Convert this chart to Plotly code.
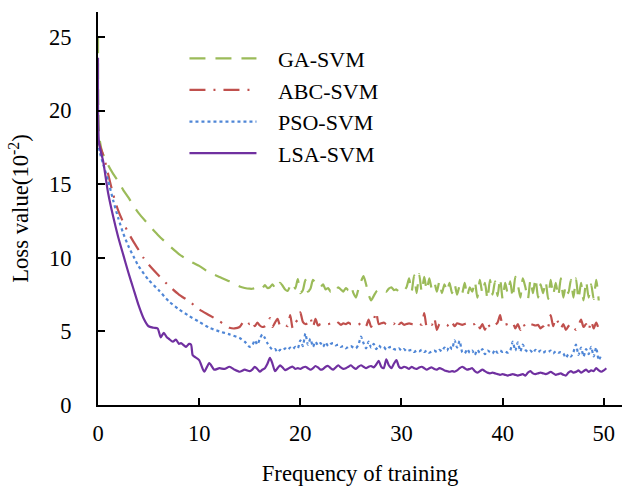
import numpy as np
import plotly.graph_objects as go

# ---- training-loss curves (loss in units of 1e-2) ----
# smooth start of each curve: explicit x knots and values
GA_X_HEAD = [0, 0.1, 0.4, 1, 1.5, 2, 2.5, 3, 3.5, 4, 5, 6, 7, 8, 9, 10, 11, 12, 13, 14, 14.5, 15]
GA_Y_HEAD = [25.0, 18.4, 17.2, 16.3, 15.7, 15.2, 14.6, 14.1, 13.55, 13.05, 12.25, 11.5, 10.85,
             10.25, 9.8, 9.45, 9.0, 8.7, 8.4, 8.05, 7.95, 7.9]

ABC_X_HEAD = [0, 0.3, 0.6, 1, 1.5, 2, 2.5, 3, 3.5, 4, 4.5, 5, 6, 7, 8, 9, 10, 11, 12, 12.5,
              13, 13.5, 14, 14.5, 15]
ABC_Y_HEAD = [18.0, 17.4, 16.8, 15.7, 14.3, 13.2, 12.4, 11.7, 11.1, 10.55, 10.0, 9.55, 8.8,
              8.1, 7.5, 7.05, 6.5, 6.1, 5.7, 5.45, 5.25, 5.2, 5.3, 5.75, 5.5]

PSO_X_HEAD = [0, 0.2, 0.5, 1, 1.5, 2, 2.5, 3, 3.5, 4, 5, 6, 7, 8, 9, 10, 11, 12, 13, 14, 14.5, 15]
PSO_Y_HEAD = [17.9, 17.1, 16.4, 15.25, 13.9, 12.7, 11.65, 10.8, 10.1, 9.45, 8.5, 7.8, 7.05,
              6.5, 6.05, 5.65, 5.25, 5.0, 4.8, 4.55, 4.3, 3.95]

LSA_X_HEAD = [0, 0.1, 0.5, 1, 1.5, 2, 2.5, 3, 3.5, 4, 4.5, 5, 5.5, 5.9, 6.2, 6.5, 6.8, 7.0,
              7.4, 7.7, 8.0, 8.2, 8.5, 8.7, 9.0, 9.2, 9.35, 9.5, 10.0, 10.5, 11.0, 11.5,
              12.0, 12.5, 13.0, 13.5, 14.0, 14.5, 15.0]
LSA_Y_HEAD = [23.6, 17.8, 16.6, 14.4, 12.8, 11.4, 10.2, 9.0, 7.9, 6.8, 5.9, 5.35, 5.25, 5.2,
              4.6, 4.9, 4.6, 4.5, 4.3, 4.45, 4.15, 4.2, 4.05, 3.95, 4.15, 4.1, 3.4, 3.3,
              3.05, 2.26, 2.85, 2.4, 2.5, 2.45, 2.6, 2.4, 2.26, 2.4, 2.3]

# later iterations, sampled every 0.25 starting at x = 15.25
TAIL_START = 15.25
TAIL_STEP = 0.25

GA_Y_TAIL = [
    7.9, 7.95, 8.05, 8.0, 7.95, 8.15, 7.95, 8.0,
    8.2, 7.95, 7.9, 8.3, 8.1, 7.85, 7.75, 8.1,
    8.3, 7.9, 8.55, 7.6, 7.8, 8.5, 7.7, 7.9,
    8.5, 8.3, 8.1, 8.0, 8.2, 7.85, 7.95, 7.7,
    7.9, 7.75, 8.0, 7.85, 7.7, 7.95, 7.8, 8.1,
    7.6, 7.3, 7.9, 8.4, 8.75, 8.2, 7.5, 7.1,
    7.4, 7.7, 7.8, 7.65, 7.75, 7.7, 7.9, 8.0,
    7.8, 7.85, 7.7, 7.9, 7.8, 8.0, 8.6, 7.7,
    8.8, 7.6, 8.9, 7.7, 8.7, 7.8, 8.6, 7.9,
    8.3, 7.7, 8.4, 7.6, 8.2, 7.7, 8.3, 7.6,
    8.2, 7.5, 8.1, 7.6, 8.3, 7.4, 8.0, 7.7,
    8.4, 7.3, 8.5, 7.6, 8.3, 7.2, 8.5, 7.5,
    8.4, 7.4, 8.6, 7.2, 8.3, 7.6, 8.4, 7.3,
    8.7, 8.2, 7.3, 8.6, 8.0, 7.2, 8.5, 7.6,
    8.6, 7.3, 8.2, 7.6, 8.4, 7.2, 8.5, 7.5,
    8.3, 7.4, 8.6, 7.3, 8.1, 7.6, 8.5, 7.3,
    8.6, 7.2, 8.3, 7.1, 8.4, 7.3, 8.2, 7.2,
    8.5, 7.1,
]

ABC_Y_TAIL = [
    5.7, 5.35, 5.6, 5.4, 5.3, 5.35, 5.5, 5.9,
    5.3, 5.6, 5.85, 5.4, 5.5, 5.45, 5.35, 6.1,
    5.2, 5.6, 5.8, 6.3, 5.65, 5.5, 5.55, 5.9,
    5.3, 5.85, 5.4, 5.5, 5.45, 5.5, 5.5, 5.55,
    5.6, 5.5, 5.6, 5.45, 5.55, 5.5, 5.6, 5.5,
    5.55, 5.5, 5.45, 5.6, 5.5, 5.35, 5.8, 5.3,
    5.75, 6.3, 5.5, 5.55, 5.6, 5.5, 5.55, 5.6,
    5.5, 5.8, 5.5, 5.6, 5.45, 5.5, 5.55, 5.5,
    5.45, 5.5, 5.55, 5.45, 6.25, 5.3, 5.5, 5.45,
    5.9, 5.1, 5.5, 5.55, 5.5, 5.45, 5.3, 5.6,
    5.35, 5.55, 5.5, 5.45, 5.5, 5.55, 5.45, 5.5,
    5.5, 5.65, 5.2, 5.5, 5.1, 5.6, 5.3, 5.5,
    5.45, 5.6, 6.1, 5.4, 5.45, 5.5, 5.55, 5.6,
    5.2, 5.5, 5.1, 5.55, 5.3, 5.45, 5.5, 5.45,
    5.4, 5.45, 5.2, 5.35, 5.1, 5.3, 6.1, 5.35,
    5.9, 5.6, 5.2, 5.5, 5.1, 5.35, 5.5, 5.3,
    5.1, 5.4, 5.8, 5.3, 5.5, 5.1, 5.7, 5.2,
    5.6, 5.15,
]

PSO_Y_TAIL = [
    4.05, 4.4, 4.1, 4.5, 4.8, 4.55, 4.2, 3.95,
    3.75, 3.8, 3.6, 3.75, 3.7, 3.85, 3.75, 3.9,
    3.8, 3.95, 3.85, 4.4, 4.0, 4.86, 4.1, 4.5,
    3.95, 4.3, 4.05, 4.2, 3.95, 4.25, 4.0, 4.15,
    4.2, 4.05, 4.1, 3.95, 4.0, 3.85, 3.95, 4.0,
    3.9, 3.85, 4.1, 4.64, 4.2, 3.85, 4.3, 3.9,
    4.15, 3.8, 4.05, 3.9, 3.95, 3.75, 3.9, 3.95,
    3.8, 3.75, 3.85, 3.7, 3.8, 3.65, 3.7, 3.75,
    3.6, 3.7, 3.65, 3.75, 3.6, 3.7, 3.55, 3.65,
    3.7, 3.6, 3.75, 3.65, 3.9, 3.7, 4.0, 3.8,
    4.4, 3.9, 4.35, 3.6, 3.5, 3.8, 3.55, 3.7,
    3.4, 3.75, 3.55, 3.8, 3.45, 3.7, 3.6, 3.5,
    3.75, 3.55, 3.7, 3.6, 3.65, 3.55, 3.7, 4.3,
    3.7, 4.25, 3.65, 4.1, 3.75, 3.6, 3.7, 3.55,
    3.75, 3.6, 3.7, 3.55, 3.65, 3.6, 3.7, 3.5,
    3.65, 3.55, 3.6, 3.5, 3.2, 3.45, 3.3, 3.6,
    4.1, 3.4, 3.9, 3.3, 3.8, 3.45, 3.95, 3.3,
    3.9, 3.05, 3.4,
]

LSA_Y_TAIL = [
    2.4, 2.6, 2.45, 2.26, 2.4, 2.5, 2.8, 3.2,
    2.8, 2.3, 2.5, 2.7, 2.55, 2.37, 2.45, 2.55,
    2.6, 2.45, 2.5, 2.45, 2.55, 2.6, 2.5, 2.4,
    2.5, 2.65, 2.55, 2.4, 2.45, 2.6, 2.65, 2.5,
    2.4, 2.55, 2.7, 2.55, 2.45, 2.5, 2.6, 2.7,
    2.55, 2.45, 2.6, 2.7, 2.6, 2.5, 2.6, 2.65,
    2.55, 2.75, 3.0, 2.6, 2.5, 3.1, 2.7, 2.5,
    2.8, 3.05, 2.6, 2.5, 2.6, 2.55, 2.45, 2.6,
    2.5, 2.45, 2.55, 2.6, 2.5, 2.4, 2.5, 2.55,
    2.45, 2.4, 2.5, 2.45, 2.35, 2.3, 2.26, 2.3,
    2.26, 2.35, 2.5, 2.6, 2.5, 2.4, 2.45, 2.5,
    2.3, 2.2, 2.3, 2.4, 2.3, 2.2, 2.15, 2.2,
    2.15, 2.1, 2.05, 2.1, 2.05, 2.0, 2.05, 2.1,
    2.05, 2.0, 2.05, 2.1, 2.0, 2.2, 2.3, 2.15,
    2.1, 2.15, 2.2, 2.15, 2.1, 2.15, 2.26, 2.15,
    2.05, 2.1, 2.15, 2.05, 2.0, 2.2, 2.3, 2.2,
    2.25, 2.35, 2.2, 2.3, 2.4, 2.25, 2.35, 2.3,
    2.5, 2.35, 2.26, 2.35, 2.5,
]

X_TICKS = [0, 10, 20, 30, 40, 50]
Y_TICKS = [0, 5, 10, 15, 20, 25]

SERIES = [
    ("GA-SVM", GA_X_HEAD, GA_Y_HEAD, GA_Y_TAIL, "#9BBB59", "16px,10px"),
    ("ABC-SVM", ABC_X_HEAD, ABC_Y_HEAD, ABC_Y_TAIL, "#C0504D", "16px,8px,2px,8px"),
    ("PSO-SVM", PSO_X_HEAD, PSO_Y_HEAD, PSO_Y_TAIL, "#4F86D6", "3px,3px"),
    ("LSA-SVM", LSA_X_HEAD, LSA_Y_HEAD, LSA_Y_TAIL, "#7030A0", "solid"),
]

FONT = "Liberation Serif, Times New Roman, serif"
PAD = "\u00a0\u00a0\u00a0"  # gap between legend sample line and its label

fig = go.Figure()
for name, xh, yh, yt, color, dash in SERIES:
    x_tail = TAIL_START + TAIL_STEP * np.arange(len(yt))
    fig.add_trace(go.Scatter(
        x=list(xh) + list(x_tail),
        y=list(yh) + list(yt),
        mode="lines",
        name=PAD + name,
        line=dict(color=color, width=2.2, dash=dash, shape="spline", smoothing=0.6),
    ))

fig.update_layout(
    width=622,
    height=489,
    margin=dict(l=98, r=0, t=12, b=84),
    paper_bgcolor="white",
    plot_bgcolor="white",
    font=dict(family=FONT, size=22.5, color="black"),
    showlegend=True,
    legend=dict(
        x=0.165, y=0.935, xanchor="left", yanchor="top",
        bgcolor="rgba(0,0,0,0)", borderwidth=0,
        font=dict(family=FONT, size=22, color="black"),
        itemwidth=67, tracegroupgap=0,
    ),
    xaxis=dict(
        range=[0, 51.8],
        tickvals=X_TICKS,
        ticks="inside", ticklen=7, tickwidth=1.5, tickcolor="black",
        showline=True, linecolor="black", linewidth=2,
        showgrid=False, zeroline=False,
        ticklabelstandoff=7,
        title=dict(text="Frequency of training", standoff=20,
                   font=dict(family=FONT, size=22.7)),
    ),
    yaxis=dict(
        range=[0, 26.7],
        tickvals=Y_TICKS,
        ticks="inside", ticklen=7, tickwidth=1.5, tickcolor="black",
        showline=True, linecolor="black", linewidth=2,
        showgrid=False, zeroline=False,
        ticklabelstandoff=20,
        title=dict(text="Loss value(10<sup>-2</sup>)", standoff=14,
                   font=dict(family=FONT, size=22.7)),
    ),
)

fig.write_html("out.html")
